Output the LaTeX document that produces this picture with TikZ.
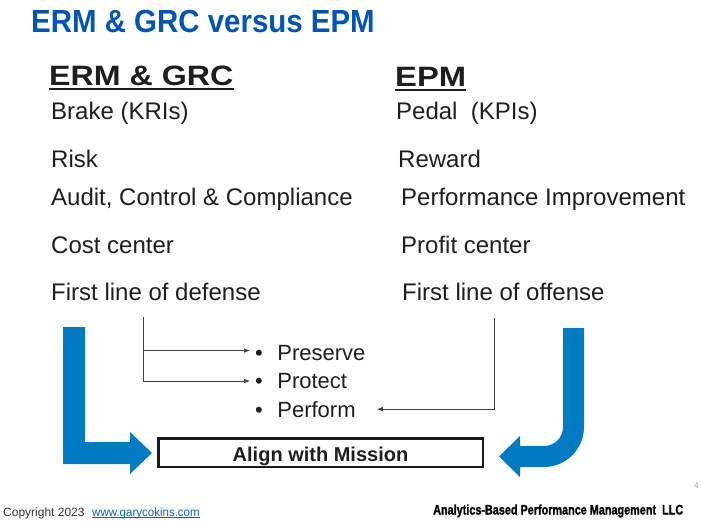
\documentclass[tikz,border=0pt]{standalone}
\usepackage{graphicx}
\usepackage{fontspec}
\setmainfont{Liberation Sans}
\newfontfamily\firmfont{Liberation Sans}[BoldFeatures={FakeBold=1.5}]
\usetikzlibrary{arrows.meta}
\definecolor{titleblue}{RGB}{0,84,180}
\definecolor{arrowblue}{RGB}{0,122,194}
\definecolor{bodytext}{RGB}{30,30,30}
\definecolor{linkblue}{RGB}{5,99,193}

\begin{document}
\begin{tikzpicture}[x=1pt, y=-1pt,
  every node/.style={inner sep=0pt, anchor=base west, text=bodytext},
  item/.style={font=\fontsize{24}{28}\selectfont},
  head/.style={font=\fontsize{28}{32}\selectfont\bfseries},
  goal/.style={font=\fontsize{22}{26}\selectfont, inner xsep=5pt},
  link/.style={-{Latex[length=6pt,width=4.5pt]}, line width=0.7pt, draw=black!75}]
  \useasboundingbox (0,0) rectangle (701,521);

  \node[text=titleblue, font=\fontsize{32}{36}\selectfont\bfseries] (title) at (31, 33) {\scalebox{0.92}[1]{ERM \& GRC versus EPM}};

  \node[head] (erm) at (49, 86) {\scalebox{1.15}[1]{ERM \& GRC}};
  \node[head] (epm) at (395, 87) {\scalebox{1.17}[1]{EPM}};
  \draw[line width=2pt, draw=bodytext] ([yshift=-3.5pt]erm.base west) -- ([yshift=-3.5pt]erm.base east);
  \draw[line width=2pt, draw=bodytext] ([yshift=-3.5pt]epm.base west) -- ([yshift=-3.5pt]epm.base east);

  \node[item] (brake)   at (51, 120) {Brake (KRIs)};
  \node[item] (risk)    at (51, 168) {Risk};
  \node[item] (audit)   at (51, 206) {Audit, Control \& Compliance};
  \node[item] (cost)    at (51, 254) {Cost center};
  \node[item] (defense) at (51, 300) {First line of defense};

  \node[item] (pedal)   at (396, 120) {Pedal\ \ (KPIs)};
  \node[item] (reward)  at (398, 168) {Reward};
  \node[item] (improve) at (401, 206) {Performance Improvement};
  \node[item] (profit)  at (401, 254) {Profit center};
  \node[item] (offense) at (402, 300) {First line of offense};

  \node[goal] (preserve) at (250, 360) {\textbullet\hspace{14.5pt}Preserve};
  \node[goal] (protect)  at (250, 388.5) {\textbullet\hspace{14.5pt}Protect};
  \node[goal] (perform)  at (250, 417) {\textbullet\hspace{14.5pt}Perform};

  \node[draw=black!90, line width=2.5pt, anchor=center, minimum width=324.5pt, minimum height=28.5pt,
        text height=17pt, text depth=0pt, font=\fontsize{20}{24}\selectfont\bfseries] (mission) at (320.5, 452.5) {Align with Mission};

  \coordinate (def_drop) at (143, 317);
  \coordinate (off_drop) at (494, 318);
  \draw[link] (def_drop) |- ([yshift=2pt]preserve.west);
  \draw[link] (def_drop) |- (protect.west);
  \draw[link, shorten >=16pt] (off_drop) |- (perform.east);

  \fill[arrowblue] (63,327) -- (85,327) -- (85,442) -- (130,442) -- (130,432) -- (152,453)
    -- (130,474) -- (130,464) -- (63,464) -- cycle;
  \fill[arrowblue] (563,328) -- (584,328) -- (584,427) .. controls (584,449.1) and (566.1,467) .. (544,467)
    -- (520,467) -- (520,477) -- (499,456.5) -- (520,436) -- (520,446) -- (544,446)
    .. controls (554.5,446) and (563,437.5) .. (563,427) -- cycle;

  \node[text=black!80, font=\fontsize{12}{14}\selectfont] (copy) at (3, 516) {Copyright 2023};
  \node[text=linkblue, font=\fontsize{12}{14}\selectfont] (site) at (92, 516) {\scalebox{0.96}[1]{www.garycokins.com}};
  \draw[linkblue, line width=0.6pt] ([yshift=-1.5pt]site.base west) -- ([yshift=-1.5pt]site.base east);
  \node[text=black, font=\firmfont\bfseries] (firm) at (433, 514.5) {\resizebox{250pt}{10pt}{Analytics-Based Performance Management\ \ LLC}};
  \node[text=black!40, font=\fontsize{8}{9}\selectfont] (page) at (694, 488) {4};
\end{tikzpicture}
\end{document}
